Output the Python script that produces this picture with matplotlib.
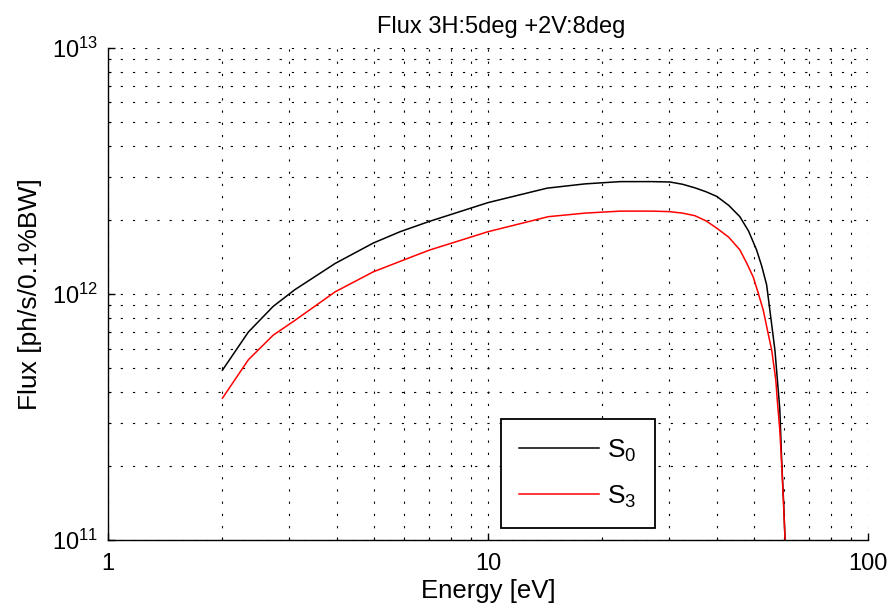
import numpy as np
import matplotlib.pyplot as plt
from matplotlib.ticker import LogLocator, NullFormatter

plt.rcParams['font.family'] = ['Liberation Sans', 'DejaVu Sans']
plt.rcParams['mathtext.fontset'] = 'custom'
plt.rcParams['mathtext.rm'] = 'Liberation Sans'
plt.rcParams['mathtext.default'] = 'regular'

# S0 (total) flux vs photon energy
energy_s0 = [2.0, 2.34, 2.72, 3.1, 3.96, 4.99, 5.87, 7.0, 10.0, 14.3, 18.0, 22.3,
             27.0, 30.1, 32.5, 35.0, 37.5, 40.0, 43.0, 46.0, 48.5, 50.9, 52.5, 54.1,
             55.5, 56.9, 57.8, 58.6, 59.3, 60.0, 60.5, 61.0]
flux_s0 = [4.9e11, 7.0e11, 8.9e11, 1.04e12, 1.33e12, 1.61e12, 1.79e12, 1.97e12,
           2.35e12, 2.69e12, 2.80e12, 2.86e12, 2.86e12, 2.85e12, 2.79e12, 2.70e12,
           2.60e12, 2.49e12, 2.29e12, 2.06e12, 1.80e12, 1.51e12, 1.30e12, 1.09e12,
           8.0e11, 5.9e11, 4.4e11, 3.4e11, 2.06e11, 1.4e11, 1.0e11, 5e10]

# S3 (circular) flux vs photon energy
energy_s3 = [2.0, 2.34, 2.72, 3.1, 3.96, 4.99, 6.49, 7.04, 10.0, 14.4, 18.0, 22.3,
             27.0, 30.0, 32.5, 35.0, 37.5, 40.0, 43.0, 46.0, 48.0, 49.9, 51.5, 53.0,
             54.5, 55.8, 57.2, 57.7, 58.6, 59.4, 60.0, 60.5, 61.0]
flux_s3 = [3.77e11, 5.4e11, 6.8e11, 7.8e11, 1.02e12, 1.23e12, 1.44e12, 1.51e12,
           1.79e12, 2.06e12, 2.13e12, 2.17e12, 2.17e12, 2.16e12, 2.13e12, 2.08e12,
           1.98e12, 1.85e12, 1.70e12, 1.51e12, 1.33e12, 1.17e12, 1.0e12, 8.6e11,
           7.0e11, 5.9e11, 4.47e11, 3.71e11, 2.8e11, 1.9e11, 1.35e11, 1.0e11, 5e10]

xticks = [1, 10, 100]
xticklabels = ['1', '10', '100']

fig = plt.figure(figsize=(8.93, 6.13), dpi=100)
ax = fig.add_axes([0.121, 0.119, 0.851, 0.803])

ax.plot(energy_s0, flux_s0, color='black', lw=1.1, label='S$_0$')
ax.plot(energy_s3, flux_s3, color='red', lw=1.1, label='S$_3$')

ax.set_xscale('log')
ax.set_yscale('log')
ax.set_xlim(1, 100)
ax.set_ylim(1e11, 1e13)
ax.set_xticks(xticks, labels=xticklabels)
ax.xaxis.set_minor_locator(LogLocator(base=10, subs=np.arange(2, 10)))
ax.yaxis.set_minor_locator(LogLocator(base=10, subs=np.arange(2, 10)))
ax.xaxis.set_minor_formatter(NullFormatter())
ax.yaxis.set_minor_formatter(NullFormatter())

dots = (0, (2.0, 9.0))
ax.grid(True, which='both', color='black', lw=0.8, linestyle=dots)
ax.set_axisbelow(True)

for side in ('top', 'right'):
    ax.spines[side].set_visible(False)
for side in ('left', 'bottom'):
    ax.spines[side].set_linewidth(1.0)

ax.tick_params(which='both', direction='in', top=False, right=False,
               labelsize=17, pad=7)
ax.tick_params(axis='x', which='both', pad=9)
ax.tick_params(which='major', length=5, width=1)
ax.tick_params(which='minor', length=2.5, width=0.8)

ax.set_title('Flux 3H:5deg +2V:8deg', fontsize=17, pad=11, x=0.517)
ax.set_xlabel('Energy [eV]', fontsize=18.5, labelpad=3)
ax.set_ylabel('Flux [ph/s/0.1%BW]', fontsize=19, labelpad=7)

leg = ax.legend(loc='lower left', bbox_to_anchor=(0.517, 0.024), borderaxespad=0,
                fontsize=19, handlelength=3.0, handletextpad=0.33,
                borderpad=0.7, labelspacing=0.75, fancybox=False, framealpha=1)
leg.get_frame().set_edgecolor('black')
leg.get_frame().set_linewidth(1.3)

fig.savefig('out.png', dpi=100)
